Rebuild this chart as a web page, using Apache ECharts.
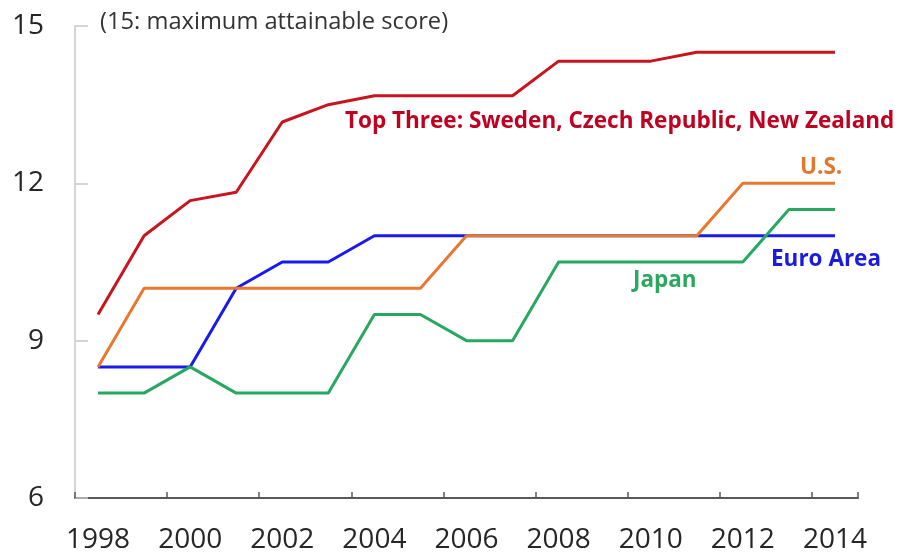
<!DOCTYPE html>
<html>
<head>
<meta charset="utf-8">
<script src="https://cdn.jsdelivr.net/npm/echarts@6/dist/echarts.min.js"></script>
<style>
  html, body { margin: 0; padding: 0; background: #fff; }
  #chart { width: 901px; height: 553px; }
</style>
</head>
<body>
<div id="chart"></div>
<script>
// Years on the horizontal axis
const years = ['1998','1999','2000','2001','2002','2003','2004','2005','2006','2007','2008','2009','2010','2011','2012','2013','2014'];

// Scores by group (15 = maximum attainable score)
const topThree = [9.5, 11.0, 11.67, 11.83, 13.17, 13.5, 13.67, 13.67, 13.67, 13.67, 14.33, 14.33, 14.33, 14.5, 14.5, 14.5, 14.5];
const usScore  = [8.5, 10, 10, 10, 10, 10, 10, 10, 11, 11, 11, 11, 11, 11, 12, 12, 12];
const euroArea = [8.5, 8.5, 8.5, 10, 10.5, 10.5, 11, 11, 11, 11, 11, 11, 11, 11, 11, 11, 11];
const japan    = [8, 8, 8.5, 8, 8, 8, 9.5, 9.5, 9, 9, 10.5, 10.5, 10.5, 10.5, 10.5, 11.5, 11.5];

// Value-axis ticks
const yTicks = [6, 9, 12, 15];

const FONT = '"Open Sans", "Noto Sans", sans-serif';
const chart = echarts.init(document.getElementById('chart'));

function line(name, data, color) {
  return {
    name, type: 'line', data,
    symbol: 'none',
    lineStyle: { color, width: 3 },
    itemStyle: { color },
    animation: false
  };
}

// Series name tags placed beside their lines
function tag(text, x, y, color, size) {
  return {
    type: 'text', x, y,
    style: { text, fill: color, font: 'bold ' + size + 'px ' + FONT,
             textAlign: 'left', textVerticalAlign: 'middle' }
  };
}

chart.setOption({
  backgroundColor: '#ffffff',
  animation: false,
  grid: { left: 75, right: 43, top: 26, bottom: 55, containLabel: false, outerBoundsMode: 'none' },
  xAxis: {
    type: 'category',
    data: years,
    boundaryGap: true,
    axisLine: { lineStyle: { color: '#595959', width: 2 } },
    axisTick: { show: true, inside: true, length: 6, interval: 1, alignWithLabel: false,
                lineStyle: { color: '#595959', width: 1.5 } },
    axisLabel: { interval: 1, color: '#262626', fontSize: 28, fontFamily: FONT, margin: 28 },
    splitLine: { show: false }
  },
  yAxis: {
    type: 'value',
    min: yTicks[0], max: yTicks[yTicks.length - 1], interval: 3,
    axisLine: { show: true, lineStyle: { color: '#c8c8c8', width: 1.5 } },
    axisTick: { show: true, inside: true, length: 13, lineStyle: { color: '#c8c8c8', width: 1.5 } },
    axisLabel: { color: '#262626', fontSize: 28, fontFamily: FONT, margin: 31 },
    splitLine: { show: false }
  },
  series: [
    line('Euro Area', euroArea, '#1a1aee'),
    line('Japan', japan, '#27a860'),
    line('U.S.', usScore, '#e8782f'),
    line('Top Three: Sweden, Czech Republic, New Zealand', topThree, '#c8141e')
  ],
  graphic: [
    { type: 'text', x: 100, y: 22,
      style: { text: '(15: maximum attainable score)', fill: '#333333',
               font: '23.7px ' + FONT, textAlign: 'left', textVerticalAlign: 'middle' } },
    tag('Top Three: Sweden, Czech Republic, New Zealand', 345, 122, '#c00020', 22.5),
    tag('U.S.', 800, 168, '#e0782e', 22.5),
    tag('Euro Area', 771, 260, '#1a1ae0', 22.5),
    tag('Japan', 633, 281, '#2aa860', 22.5)
  ]
});
</script>
</body>
</html>
